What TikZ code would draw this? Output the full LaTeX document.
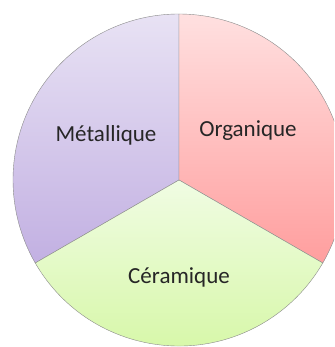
\documentclass[tikz,border=0pt]{standalone}
\usepackage{fontspec}
\setmainfont{Carlito}
\usepackage{xcolor}
\usepackage{tikz}
\definecolor{metaltop}{HTML}{E8E2F4}
\definecolor{metalbot}{HTML}{C2B0E2}
\definecolor{orgatop}{HTML}{FFE0E0}
\definecolor{orgabot}{HTML}{FF9E9E}
\definecolor{ceratop}{HTML}{F0FCE3}
\definecolor{cerabot}{HTML}{D4F7A2}
\definecolor{edgegray}{HTML}{8A8A8A}
\tikzset{every node/.append style={font=\fontsize{23}{27}\selectfont,text=black!85}}

\begin{document}
\begin{tikzpicture}[x=1pt,y=1pt]
\useasboundingbox (0,0) rectangle (334,347);
\clip (0,0) rectangle (334,347);
\coordinate (O) at (179,167); \def\rad{166}
\draw[edgegray,top color=metaltop,bottom color=metalbot] (O)--++(90:\rad) arc (90:210:\rad)--cycle;
\draw[edgegray,top color=orgatop,bottom color=orgabot] (O)--++(330:\rad) arc (-30:90:\rad)--cycle;
\draw[edgegray,top color=ceratop,bottom color=cerabot] (O)--++(210:\rad) arc (210:330:\rad)--cycle;
\node (metal) at (106,212) {Métallique};
\node (orga) at (248,216) {Organique};
\node (cera) at (179,70) {Céramique};
\end{tikzpicture}
\end{document}
